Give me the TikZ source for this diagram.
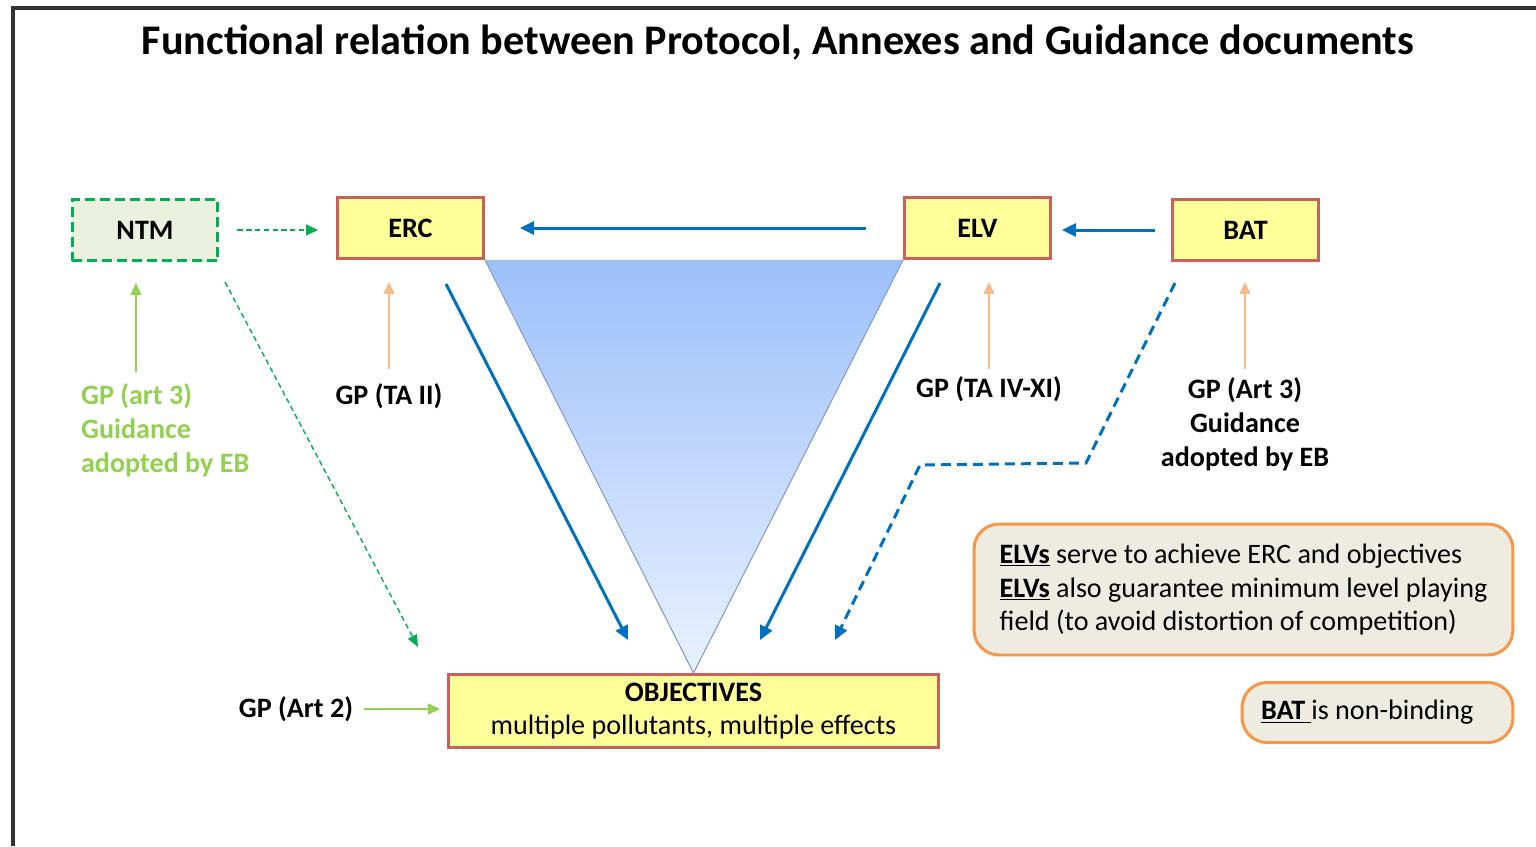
\documentclass[tikz,border=0pt]{standalone}
\usepackage{fontspec}
\setmainfont{Carlito}
\usetikzlibrary{arrows.meta, positioning, backgrounds, calc}
\definecolor{boxyellow}{HTML}{FFFF99}
\definecolor{boxred}{HTML}{C9605C}
\definecolor{arrowblue}{HTML}{0070C0}
\definecolor{dashgreen}{HTML}{00B050}
\definecolor{gpgreen}{HTML}{92D050}
\definecolor{gporange}{HTML}{F8B98A}
\definecolor{notefill}{HTML}{EEECE1}
\definecolor{noteorange}{HTML}{F79646}
\definecolor{ntmfill}{HTML}{EBF1DE}
\definecolor{triblue}{HTML}{9DC0FA}
\definecolor{trilight}{HTML}{E9F1FF}
\definecolor{triedge}{HTML}{7F9CCB}
\tikzstyle{block} = [rectangle, minimum width=2.92cm, minimum height=1.22cm, text centered, draw=boxred, line width=1.7pt, fill=boxyellow, font=\bfseries\fontsize{16}{19.3}\selectfont]
\tikzstyle{ntmblock} = [block, draw=dashgreen, fill=ntmfill, dash pattern=on 0.2cm off 0.1cm]
\tikzstyle{note} = [rectangle, rounded corners=0.5cm, draw=noteorange, line width=1.7pt, fill=notefill, align=left, font=\fontsize{16}{19.3}\selectfont]
\tikzstyle{gplabel} = [inner sep=1pt, font=\bfseries\fontsize{16}{19.3}\selectfont]
\tikzstyle{connector} = [draw, -{Triangle[length=0.28cm, width=0.26cm]}, line width=1.7pt, arrowblue]
\tikzstyle{gparrow} = [draw, -{Triangle[length=0.24cm, width=0.22cm]}, line width=0.8pt]

\begin{document}
\begin{tikzpicture}[x=0.02cm, y=-0.02cm]
    \useasboundingbox (0,0) rectangle (1536,846);
    \draw[line width=0.07cm, black!80] (13,846) -- (13,8) -- (1536,8);

    % Title
    \node[font=\bfseries\fontsize{24}{29}\selectfont] (title) at (778,43) {Functional relation between Protocol, Annexes and Guidance documents};

    % Nodes
    \node[ntmblock] (ntm) at (145,230) {NTM};
    \node[block] (erc) at (410.5,228) {ERC};
    \node[block] (elv) at (977.5,228) {ELV};
    \node[block] (bat) at (1245.5,230) {BAT};
    \node[block, minimum width=9.8cm, minimum height=1.46cm, align=center, font=\fontsize{16}{19.3}\selectfont] (obj) at (693.5,711) {\textbf{OBJECTIVES}\\multiple pollutants, multiple effects};

    \node[gplabel, text=gpgreen, align=left, anchor=west] (gpntm) at (79,430) {GP (art 3)\\Guidance\\adopted by EB};
    \node[gplabel] (gpta2) at (389,396) {GP (TA II)};
    \node[gplabel] (gpta4) at (989,389) {GP (TA IV-XI)};
    \node[gplabel, align=center] (gpbat) at (1245,424) {GP (Art 3)\\Guidance\\adopted by EB};
    \node[gplabel] (gpart2) at (296,709) {GP (Art 2)};

    \node[note, minimum width=10.78cm, minimum height=2.62cm] (elvnote) at (1243.5,589.5) {\underline{\textbf{ELVs}} serve to achieve ERC and objectives\\\underline{\textbf{ELVs}} also guarantee minimum level playing\\field (to avoid distortion of competition)};
    \node[note, align=flush left, text width=4.66cm, inner xsep=0.38cm, minimum height=1.2cm] (batnote) at (1377.5,712.5) {\underline{\textbf{BAT}\hspace{0.22em}}is non-binding};

    % Triangle
    \begin{scope}[on background layer]
        \shade[top color=triblue, bottom color=trilight] (erc.south east) -- (elv.south west) -- (obj.north) -- cycle;
        \draw[triedge, line width=0.6pt] (erc.south east) -- (obj.north) -- (elv.south west);
    \end{scope}

    % Coordinates
    \coordinate (ercout) at (446,284);
    \coordinate (ercin) at (628,640);
    \coordinate (elvout) at (940,283);
    \coordinate (elvin) at (760,640);
    \coordinate (batout) at (1175,283);
    \coordinate (batbendA) at (1086,463);
    \coordinate (batbendB) at (920,465);
    \coordinate (batin) at (835,640);
    \coordinate (ntmout) at (225,282);
    \coordinate (ntmin) at (418,647);
    \coordinate (gpntmtop) at (136,372);

    % Arrows
    \path [connector, dashgreen, line width=0.8pt, dash pattern=on 3pt off 2pt, -{Triangle[length=0.24cm, width=0.22cm]}, shorten <=0.36cm, shorten >=0.36cm] (ntm.east) -- (ntm.east -| erc.west);
    \path [connector, shorten <=0.74cm, shorten >=0.7cm] (elv.west) -- (erc.east);
    \path [connector, shorten <=0.32cm, shorten >=0.2cm] (bat.west) -- (bat.west -| elv.east);
    \path [connector] (ercout) -- (ercin);
    \path [connector] (elvout) -- (elvin);
    \path [connector, dash pattern=on 0.2cm off 0.12cm] (batout) -- (batbendA) -- (batbendB) -- (batin);
    \path [connector, dashgreen, line width=0.8pt, dash pattern=on 3pt off 2pt, -{Triangle[length=0.24cm, width=0.2cm]}] (ntmout) -- (ntmin);

    \path [gparrow, gpgreen, shorten >=0.42cm] (gpntmtop) -- (gpntmtop |- ntm.south);
    \path [gparrow, gporange, shorten <=0.24cm, shorten >=0.44cm] (gpta2.north) -- (gpta2.north |- erc.south);
    \path [gparrow, gporange, shorten <=0.1cm, shorten >=0.44cm] (gpta4.north) -- (gpta4.north |- elv.south);
    \path [gparrow, gporange, shorten <=0.12cm, shorten >=0.4cm] (gpbat.north) -- (gpbat.north |- bat.south);
    \path [gparrow, gpgreen, shorten <=0.17cm, shorten >=0.14cm] (gpart2.east) -- (gpart2.east -| obj.west);
\end{tikzpicture}
\end{document}
